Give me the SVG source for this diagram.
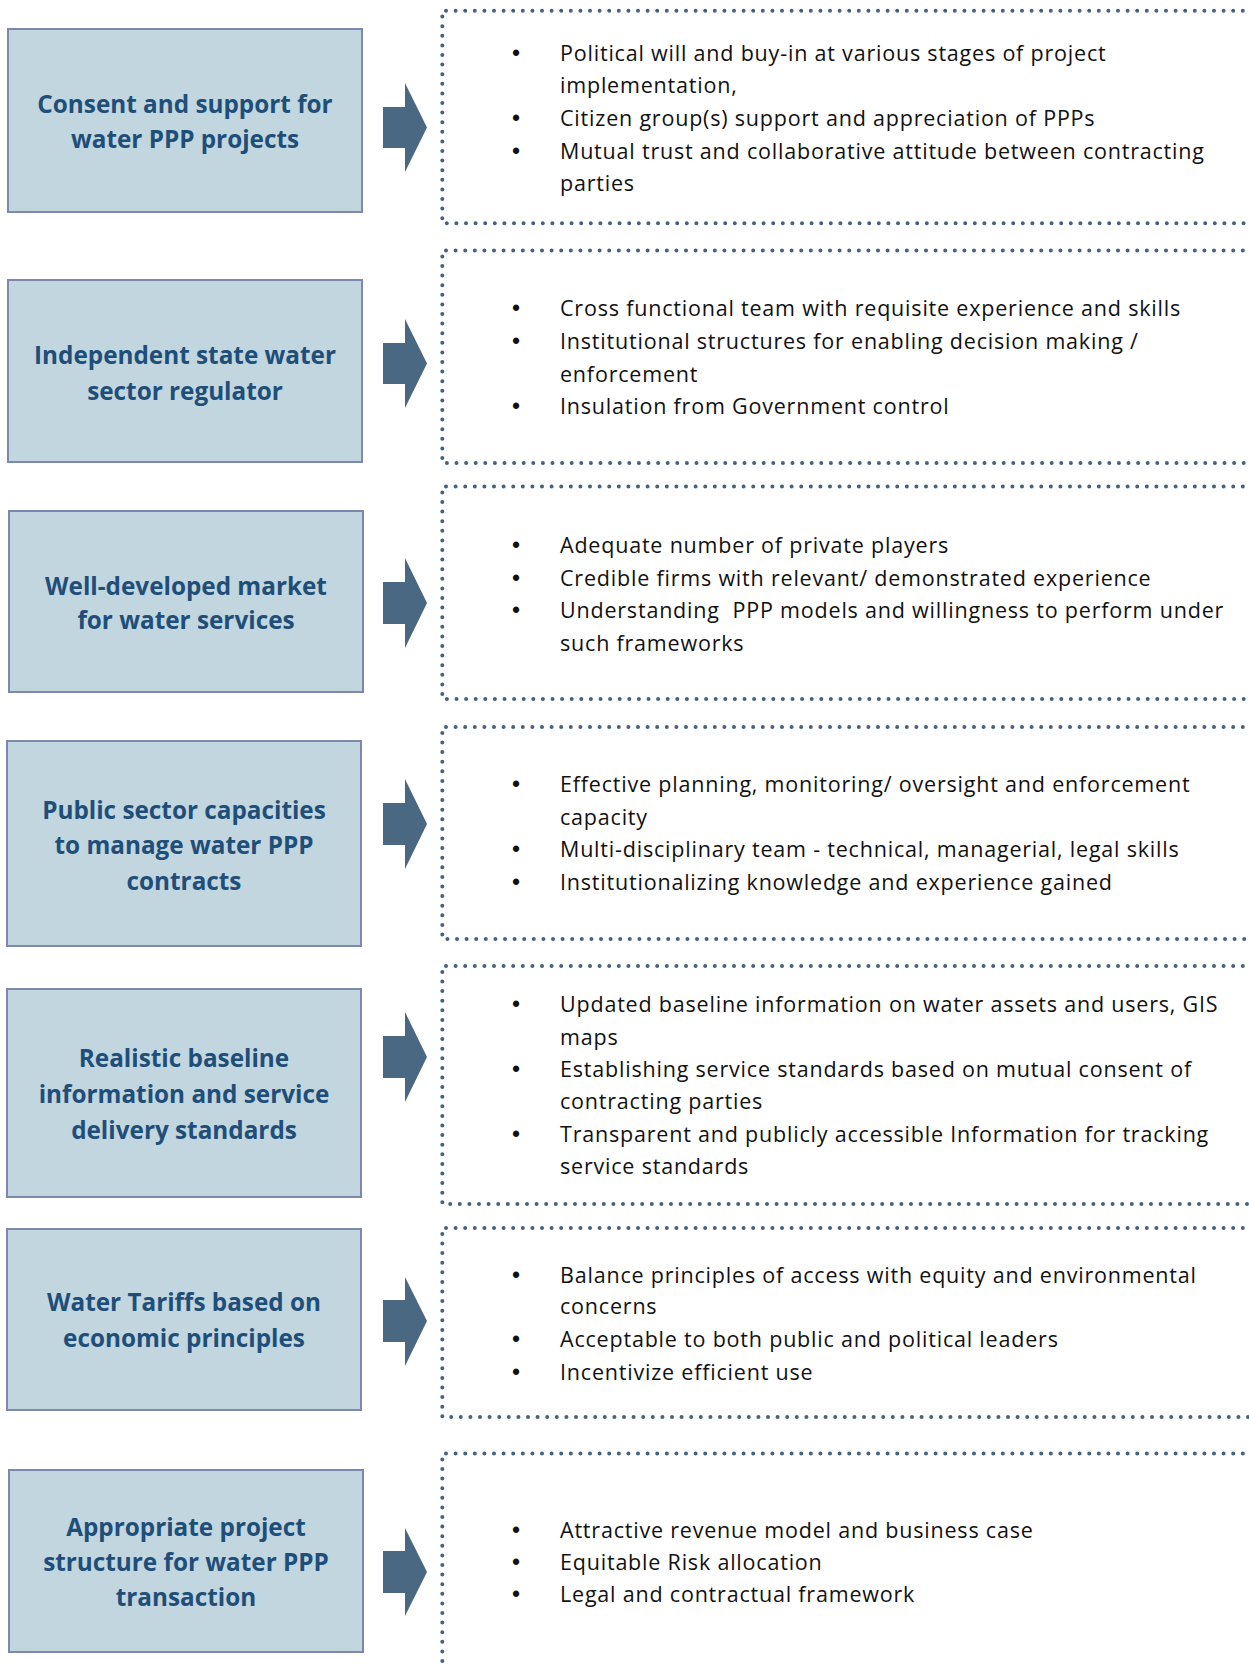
<svg xmlns="http://www.w3.org/2000/svg" width="1249" height="1665" viewBox="0 0 1249 1665">
<style>
.box{fill:#C1D6DE;stroke:#7E88AE;stroke-width:2}
.title{font-family:"Open Sans","Liberation Sans",sans-serif;font-weight:bold;font-size:24.3px;fill:#1F4E79;text-anchor:middle}
.dots{fill:none;stroke:#44627E;stroke-width:4;stroke-linecap:round;stroke-dasharray:0 9.6}
.arrow{fill:#4A6882}
.item{font-family:"Open Sans","Liberation Sans",sans-serif;font-size:21.5px;letter-spacing:0.8px;fill:#111111}
.bul{font-family:"Liberation Sans",sans-serif;font-size:23px;fill:#111111;text-anchor:middle}
</style>
<rect width="1249" height="1665" fill="#ffffff"/>
<g id="connectors">
<path class="arrow" d="M383,107 H405 V83 L427,127.5 L405,172 V148 H383 Z"/>
<path class="arrow" d="M383,343 H405 V319 L427,363.5 L405,408 V384 H383 Z"/>
<path class="arrow" d="M383,582 H405 V558 L427,603 L405,648 V624 H383 Z"/>
<path class="arrow" d="M383,803 H405 V779 L427,824 L405,869 V845 H383 Z"/>
<path class="arrow" d="M383,1036 H405 V1012 L427,1057 L405,1102 V1078 H383 Z"/>
<path class="arrow" d="M383,1300 H405 V1277 L427,1321 L405,1366 V1342 H383 Z"/>
<path class="arrow" d="M383,1551 H405 V1528 L427,1572 L405,1616 V1593 H383 Z"/>
</g>
<g id="node1">
<rect class="box" x="8" y="29" width="354" height="183"/>
<text class="title" x="185" y="113">Consent and support for</text>
<text class="title" x="185" y="148">water PPP projects</text>
</g>
<g id="node2">
<rect class="box" x="8" y="280" width="354" height="182"/>
<text class="title" x="185" y="364">Independent state water</text>
<text class="title" x="185" y="400">sector regulator</text>
</g>
<g id="node3">
<rect class="box" x="9" y="511" width="354" height="181"/>
<text class="title" x="186" y="595">Well-developed market</text>
<text class="title" x="186" y="629">for water services</text>
</g>
<g id="node4">
<rect class="box" x="7" y="741" width="354" height="205"/>
<text class="title" x="184" y="819">Public sector capacities</text>
<text class="title" x="184" y="854">to manage water PPP</text>
<text class="title" x="184" y="890">contracts</text>
</g>
<g id="node5">
<rect class="box" x="7" y="989" width="354" height="208"/>
<text class="title" x="184" y="1067">Realistic baseline</text>
<text class="title" x="184" y="1103">information and service</text>
<text class="title" x="184" y="1139">delivery standards</text>
</g>
<g id="node6">
<rect class="box" x="7" y="1229" width="354" height="181"/>
<text class="title" x="184" y="1311">Water Tariffs based on</text>
<text class="title" x="184" y="1347">economic principles</text>
</g>
<g id="node7">
<rect class="box" x="9" y="1470" width="354" height="182"/>
<text class="title" x="186" y="1536">Appropriate project</text>
<text class="title" x="186" y="1571">structure for water PPP</text>
<text class="title" x="186" y="1606">transaction</text>
</g>
<g id="detail1">
<path class="dots" d="M1262,10.7 H442.3 V223.3 H1262"/>
<text class="bul" x="516" y="61">•</text><text class="item" x="560" y="61">Political will and buy-in at various stages of project</text>
<text class="item" x="560" y="93">implementation,</text>
<text class="bul" x="516" y="126">•</text><text class="item" x="560" y="126">Citizen group(s) support and appreciation of PPPs</text>
<text class="bul" x="516" y="159">•</text><text class="item" x="560" y="159">Mutual trust and collaborative attitude between contracting</text>
<text class="item" x="560" y="191">parties</text>
</g>
<g id="detail2">
<path class="dots" d="M1262,250.5 H442.3 V463 H1262"/>
<text class="bul" x="516" y="316">•</text><text class="item" x="560" y="316">Cross functional team with requisite experience and skills</text>
<text class="bul" x="516" y="349">•</text><text class="item" x="560" y="349">Institutional structures for enabling decision making /</text>
<text class="item" x="560" y="382">enforcement</text>
<text class="bul" x="516" y="414">•</text><text class="item" x="560" y="414">Insulation from Government control</text>
</g>
<g id="detail3">
<path class="dots" d="M1262,486.5 H442.3 V699 H1262"/>
<text class="bul" x="516" y="553">•</text><text class="item" x="560" y="553">Adequate number of private players</text>
<text class="bul" x="516" y="586">•</text><text class="item" x="560" y="586">Credible firms with relevant/ demonstrated experience</text>
<text class="bul" x="516" y="618">•</text><text class="item" x="560" y="618" xml:space="preserve">Understanding  PPP models and willingness to perform under</text>
<text class="item" x="560" y="651">such frameworks</text>
</g>
<g id="detail4">
<path class="dots" d="M1262,727 H442.3 V939 H1262"/>
<text class="bul" x="516" y="792">•</text><text class="item" x="560" y="792">Effective planning, monitoring/ oversight and enforcement</text>
<text class="item" x="560" y="825">capacity</text>
<text class="bul" x="516" y="857">•</text><text class="item" x="560" y="857">Multi-disciplinary team - technical, managerial, legal skills</text>
<text class="bul" x="516" y="890">•</text><text class="item" x="560" y="890">Institutionalizing knowledge and experience gained</text>
</g>
<g id="detail5">
<path class="dots" d="M1262,966 H442.3 V1204 H1262"/>
<text class="bul" x="516" y="1012">•</text><text class="item" x="560" y="1012">Updated baseline information on water assets and users, GIS</text>
<text class="item" x="560" y="1045">maps</text>
<text class="bul" x="516" y="1077">•</text><text class="item" x="560" y="1077">Establishing service standards based on mutual consent of</text>
<text class="item" x="560" y="1109">contracting parties</text>
<text class="bul" x="516" y="1142">•</text><text class="item" x="560" y="1142">Transparent and publicly accessible Information for tracking</text>
<text class="item" x="560" y="1174">service standards</text>
</g>
<g id="detail6">
<path class="dots" d="M1262,1228 H442.3 V1417 H1262"/>
<text class="bul" x="516" y="1283">•</text><text class="item" x="560" y="1283">Balance principles of access with equity and environmental</text>
<text class="item" x="560" y="1314">concerns</text>
<text class="bul" x="516" y="1347">•</text><text class="item" x="560" y="1347">Acceptable to both public and political leaders</text>
<text class="bul" x="516" y="1380">•</text><text class="item" x="560" y="1380">Incentivize efficient use</text>
</g>
<g id="detail7">
<path class="dots" d="M1262,1453.5 H442.3 V1680"/>
<text class="bul" x="516" y="1538">•</text><text class="item" x="560" y="1538">Attractive revenue model and business case</text>
<text class="bul" x="516" y="1570">•</text><text class="item" x="560" y="1570">Equitable Risk allocation</text>
<text class="bul" x="516" y="1602">•</text><text class="item" x="560" y="1602">Legal and contractual framework</text>
</g>
</svg>
